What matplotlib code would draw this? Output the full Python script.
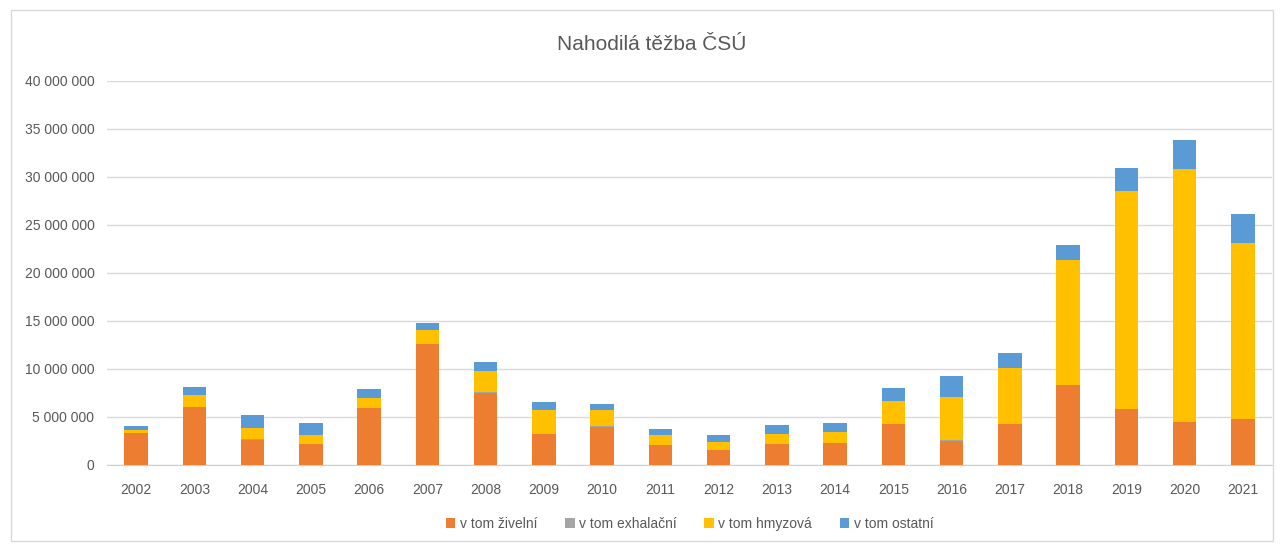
import matplotlib.pyplot as plt
import numpy as np
from matplotlib.patches import Rectangle
from matplotlib.ticker import FuncFormatter

plt.rcParams['font.family'] = ['Liberation Sans', 'DejaVu Sans']

years = [str(y) for y in range(2002, 2022)]
# values in mil. m3
zivelni = [3.3, 6.05, 2.65, 2.2, 5.9, 12.6, 7.55, 3.2, 4.0, 2.05,
           1.55, 2.15, 2.3, 4.25, 2.55, 4.25, 8.3, 5.8, 4.45, 4.75]
exhalacni = [0.03, 0.03, 0.03, 0.02, 0.02, 0.02, 0.03, 0.02, 0.02, 0.02,
             0.02, 0.02, 0.02, 0.02, 0.02, 0.02, 0.02, 0.02, 0.02, 0.02]
hmyzova = [0.3, 1.2, 1.2, 0.92, 1.06, 1.46, 2.23, 2.56, 1.76, 1.08,
           0.85, 1.08, 1.11, 2.35, 4.47, 5.8, 13.07, 22.77, 26.32, 18.32]
ostatni = [0.45, 0.8, 1.3, 1.2, 0.95, 0.7, 0.87, 0.76, 0.59, 0.59,
           0.66, 0.87, 0.97, 1.43, 2.19, 1.62, 1.5, 2.3, 3.05, 3.05]

series = [
    ('v tom živelní', zivelni, '#ED7D31'),
    ('v tom exhalační', exhalacni, '#A5A5A5'),
    ('v tom hmyzová', hmyzova, '#FFC000'),
    ('v tom ostatní', ostatni, '#5B9BD5'),
]

fig = plt.figure(figsize=(12.81, 5.44), dpi=100)
ax = fig.add_axes([107 / 1281, 79 / 544, 1165 / 1281, 384 / 544])

x = np.arange(len(years))
bottom = np.zeros(len(years))
for name, vals, col in series:
    v = np.array(vals) * 1e6
    ax.bar(x, v, 0.4, bottom=bottom, color=col, label=name, zorder=3)
    bottom += v

ax.set_xlim(-0.5, len(years) - 0.5)
ax.set_ylim(0, 40e6)
ax.set_yticks(np.arange(0, 40e6 + 1, 5e6))
ax.yaxis.set_major_formatter(FuncFormatter(lambda v, p: f'{int(v):,}'.replace(',', ' ')))
ax.set_xticks(x)
ax.set_xticklabels(years)
ax.grid(axis='y', color='#d9d9d9', linewidth=1, zorder=0)
for s in ['top', 'right', 'left']:
    ax.spines[s].set_visible(False)
ax.spines['bottom'].set_color('#d0d0d0')
ax.tick_params(axis='both', length=0, labelsize=10, colors='#595959')
ax.tick_params(axis='x', pad=13)
ax.tick_params(axis='y', pad=9)

fig.text(652 / 1281, 1 - 45 / 544, 'Nahodilá těžba ČSÚ', ha='center', va='center',
         fontsize=15, color='#595959')

ax.legend(loc='center', bbox_to_anchor=(0.5, -(524 - 465) / 384), ncol=4,
          frameon=False, fontsize=10, handlelength=0.7, handleheight=0.7,
          handletextpad=0.3, columnspacing=2.0, labelcolor='#595959')

fig.patches.append(Rectangle((11 / 1281, 0.005), 1262 / 1281, 1 - 0.005 - 10 / 544,
                             transform=fig.transFigure, fill=False,
                             edgecolor='#d9d9d9', linewidth=1))

fig.savefig('out.png', dpi=100)
